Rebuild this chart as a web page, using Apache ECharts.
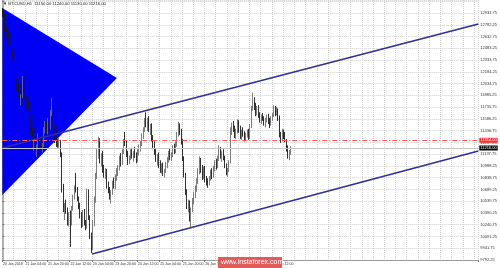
<!DOCTYPE html>
<html>
<head>
<meta charset="utf-8">
<script src="https://cdn.jsdelivr.net/npm/echarts@6/dist/echarts.min.js"></script>
<style>
  html, body { margin: 0; padding: 0; background: #fff; }
  #chart { width: 500px; height: 268px; }
</style>
</head>
<body>
<div id="chart"></div>
<script>
// BTCUSD H1, one candle per hour starting 20 Jan 2018 12:00
var openPrices = [
  12940,12900,12740,12690,12650,12560,12500,12430,12360,12210,
  12060,11980,11900,11820,11870,12080,11950,11850,11760,11720,
  11600,11420,11260,11300,11140,11230,11370,11330,11220,11250,
  11450,11520,11410,11570,11470,11660,11700,11460,11310,11290,
  11250,11300,11130,10700,10440,10480,10420,10280,10370,10250,
  10450,10590,10700,10680,10560,10470,10350,10240,10400,10260,
  10210,10660,10330,10100,9960,10260,10560,10860,11150,11300,
  11060,11110,10940,10880,10920,10740,10680,10600,10650,10770,
  10720,10850,10920,10960,11080,11020,11170,11300,11280,11140,
  11030,11090,11170,11110,11150,11120,11060,11180,11220,11270,
  11370,11450,11560,11520,11580,11460,11490,11330,11240,11170,
  11080,11110,11000,10930,10990,10880,10920,11010,11060,11150,
  11090,11130,11220,11170,11260,11390,11500,11420,11290,11080,
  10870,10650,10470,10520,10320,10430,10550,10620,10700,10800,
  10920,11070,10940,10850,10950,10810,10790,10760,10840,10900,
  10860,10970,11030,10980,11090,11200,11120,11150,11090,10990,
  10900,10930,11040,11450,11500,11460,11380,11430,11540,11450,
  11360,11420,11390,11340,11380,11420,11350,11490,11720,11810,
  11740,11660,11720,11630,11570,11600,11590,11530,11570,11610,
  11550,11520,11590,11640,11720,11660,11700,11600,11380,11320,
  11430,11360,11310,11200,11120,11150
];
var closePrices = [
  12900,12740,12690,12650,12560,12500,12430,12360,12210,12060,
  11980,11900,11820,11870,12080,11950,11850,11760,11720,11600,
  11420,11260,11300,11140,11230,11370,11330,11220,11250,11450,
  11520,11410,11570,11470,11660,11700,11460,11310,11290,11250,
  11300,11130,10700,10440,10480,10420,10280,10370,10250,10450,
  10590,10700,10680,10560,10470,10350,10240,10400,10260,10210,
  10660,10330,10100,9960,10260,10560,10860,11150,11300,11060,
  11110,10940,10880,10920,10740,10680,10600,10650,10770,10720,
  10850,10920,10960,11080,11020,11170,11300,11280,11140,11030,
  11090,11170,11110,11150,11120,11060,11180,11220,11270,11370,
  11450,11560,11520,11580,11460,11490,11330,11240,11170,11080,
  11110,11000,10930,10990,10880,10920,11010,11060,11150,11090,
  11130,11220,11170,11260,11390,11500,11420,11290,11080,10870,
  10650,10470,10520,10320,10430,10550,10620,10700,10800,10920,
  11070,10940,10850,10950,10810,10790,10760,10840,10900,10860,
  10970,11030,10980,11090,11200,11120,11150,11090,10990,10900,
  10930,11040,11450,11500,11460,11380,11430,11540,11450,11360,
  11420,11390,11340,11380,11420,11350,11490,11720,11810,11740,
  11660,11720,11630,11570,11600,11590,11530,11570,11610,11550,
  11520,11590,11640,11720,11660,11700,11600,11380,11320,11430,
  11360,11310,11200,11120,11150,11216
];
var lowPrices = [
  12880,12700,12640,12610,12520,12470,12400,12330,12180,12020,
  11940,11860,11780,11760,11850,11920,11820,11720,11680,11560,
  11380,11220,11180,11100,11100,11200,11300,11190,11160,11230,
  11400,11380,11390,11440,11450,11620,11420,11280,11230,11220,
  11220,11100,10650,10400,10300,10380,10230,10220,9960,10230,
  10420,10560,10650,10540,10440,10320,10200,10210,10230,10170,
  10190,10300,10060,9880,9920,10220,10520,10820,11080,11020,
  10980,10900,10840,10820,10700,10640,10560,10510,10620,10700,
  10690,10800,10860,10930,10980,11000,11140,11240,11100,11000,
  11010,11060,11080,11040,11090,11020,11040,11120,11170,11240,
  11330,11420,11480,11430,11420,11380,11300,11200,11130,11040,
  10990,10960,10900,10890,10860,10840,10900,10960,11030,11060,
  11050,11100,11140,11150,11230,11360,11380,11260,11050,10840,
  10620,10440,10400,10280,10200,10400,10500,10580,10660,10760,
  10880,10900,10810,10820,10780,10740,10710,10740,10800,10820,
  10840,10920,10940,10960,11050,11080,11040,11060,10960,10870,
  10850,10910,11020,11380,11420,11340,11330,11400,11410,11330,
  11320,11360,11300,11310,11350,11320,11330,11470,11690,11700,
  11620,11630,11600,11540,11520,11560,11500,11480,11540,11520,
  11470,11500,11560,11610,11620,11630,11560,11350,11280,11300,
  11330,11290,11170,11080,11060,11130
];
var highPrices = [
  12996,12930,12800,12760,12700,12620,12560,12480,12400,12260,
  12110,12030,11960,11900,12130,12110,11990,11880,11800,11740,
  11640,11480,11330,11340,11260,11400,11450,11380,11280,11480,
  11560,11560,11600,11620,11700,11850,11760,11500,11360,11330,
  11340,11320,11160,10760,10520,10560,10460,10400,10420,10480,
  10620,10740,10900,10720,10600,10520,10400,10430,10440,10300,
  10700,10690,10360,10140,10300,10600,10900,11200,11360,11340,
  11150,11180,11000,10960,10950,10790,10720,10680,10800,10840,
  10880,10960,11000,11120,11150,11200,11330,11420,11320,11180,
  11120,11200,11220,11180,11230,11160,11200,11260,11300,11400,
  11480,11600,11670,11600,11620,11520,11530,11380,11300,11210,
  11140,11160,11060,11020,11030,10950,11040,11100,11180,11210,
  11160,11250,11270,11300,11420,11550,11530,11460,11330,11110,
  10900,10690,10560,10550,10460,10580,10660,10740,10830,10960,
  11110,11090,11000,10980,10990,10860,10830,10860,10940,10960,
  10990,11060,11080,11120,11250,11230,11180,11200,11120,11020,
  10960,11060,11480,11540,11560,11500,11460,11580,11570,11500,
  11450,11480,11430,11410,11450,11460,11520,11750,11920,11860,
  11790,11750,11760,11670,11640,11660,11620,11600,11640,11650,
  11600,11620,11660,11760,11750,11740,11720,11630,11420,11460,
  11450,11420,11330,11250,11190,11240
];

// time axis labels, one every 16 bars
var timeLabels = ['20 Jan 2018', '21 Jan 04:00', '21 Jan 20:00', '22 Jan 12:00',
  '23 Jan 04:00', '23 Jan 20:00', '24 Jan 12:00', '25 Jan 04:00', '25 Jan 20:00',
  '26 Jan 12:00', '27 Jan 04:00', '27 Jan 20:00', '28 Jan 12:00'];
var labelEvery = 16;
var slotCount = 339;

// price scale of the right axis
var priceMin = 9792.25;
var priceMax = 13097.5;
var priceStep = 149.5;

// drawn objects (bar position, price)
var triangleBars = [0, 81.6, 0];
var trianglePrices = [12996, 12106, 10618];
var upperChannelBars = [0, 339];
var upperChannelPrices = [11216, 12792];
var lowerChannelBars = [64, 339];
var lowerChannelPrices = [9868, 11178];
var levelPrice = 11314;
var lastPrice = 11216;

var slots = [];
for (var i = 0; i < slotCount; i++) slots.push(i);

var candles = openPrices.map(function (o, k) {
  return [o, closePrices[k], lowPrices[k], highPrices[k]];
});

function pairs(xs, ys) {
  return xs.map(function (x, k) { return [x, ys[k]]; });
}

function showLabel(idx) {
  return idx % labelEvery === 0 && idx / labelEvery < timeLabels.length;
}

var chart = echarts.init(document.getElementById('chart'), null, { renderer: 'canvas' });

var option = {
  animation: false,
  backgroundColor: '#ffffff',
  grid: { left: 1, right: 17, top: 0, bottom: 8 },
  xAxis: [{
    type: 'category',
    data: slots,
    boundaryGap: true,
    axisLine: { lineStyle: { color: '#9a9a9a', width: 1 } },
    axisTick: { show: true, length: 2, lineStyle: { color: '#777' }, interval: showLabel },
    axisLabel: {
      interval: showLabel,
      formatter: function (v, idx) { return timeLabels[idx / labelEvery] || ''; },
      align: 'left',
      fontSize: 3.6,
      fontFamily: 'Liberation Sans',
      color: '#333',
      margin: 2
    },
    splitLine: {
      show: true,
      interval: function (idx) { return idx % 8 === 0; },
      lineStyle: { color: '#cfcfcf', type: 'dotted', width: 1 }
    }
  }, {
    type: 'value',
    min: 0,
    max: slotCount,
    show: false
  }],
  yAxis: [{
    type: 'value',
    position: 'right',
    min: priceMin,
    max: priceMax,
    interval: priceStep,
    axisLine: { show: true, lineStyle: { color: '#9a9a9a', width: 1.5 } },
    axisTick: { show: true, length: 2, lineStyle: { color: '#777' } },
    axisLabel: {
      showMaxLabel: false,
      fontSize: 4,
      fontFamily: 'Liberation Sans',
      color: '#333',
      margin: 2,
      formatter: function (v) { return v > 13000 ? '' : v.toFixed(2); }
    },
    splitLine: { show: true, lineStyle: { color: '#cfcfcf', type: 'dotted', width: 1 } }
  }],
  series: [{
    type: 'custom',
    xAxisIndex: 1,
    z: 1,
    silent: true,
    data: [0],
    renderItem: function (params, api) {
      var pts = triangleBars.map(function (b, k) { return api.coord([b, trianglePrices[k]]); });
      return { type: 'polygon', shape: { points: pts }, style: { fill: '#0000f5' } };
    }
  }, {
    type: 'candlestick',
    z: 3,
    data: candles,
    barWidth: 1.3,
    itemStyle: {
      color: '#a8a8a8',
      borderColor: '#6e6e6e',
      color0: '#1a1a1a',
      borderColor0: '#1a1a1a',
      borderWidth: 0.9
    },
    markLine: {
      symbol: 'none',
      silent: true,
      animation: false,
      data: [{
        yAxis: levelPrice,
        lineStyle: { color: '#ff5a5a', type: [5, 2, 1, 2], width: 1 },
        label: {
          position: 'end', distance: 1, fontSize: 4, fontFamily: 'Liberation Sans',
          color: '#fff', backgroundColor: '#ff2a2a', padding: [0.5, 1],
          formatter: function (p) { return p.value.toFixed(2); }
        }
      }, {
        yAxis: lastPrice,
        lineStyle: { color: '#c4c4c4', type: 'solid', width: 1 },
        label: {
          position: 'end', distance: 1, fontSize: 4, fontFamily: 'Liberation Sans',
          color: '#fff', backgroundColor: '#000', padding: [0.5, 1],
          formatter: function (p) { return p.value.toFixed(2); }
        }
      }]
    }
  }, {
    type: 'line',
    xAxisIndex: 1,
    z: 4,
    symbol: 'none',
    silent: true,
    data: pairs(upperChannelBars, upperChannelPrices),
    lineStyle: { color: '#2e2e9e', width: 1.5 }
  }, {
    type: 'line',
    xAxisIndex: 1,
    z: 4,
    symbol: 'none',
    silent: true,
    data: pairs(lowerChannelBars, lowerChannelPrices),
    lineStyle: { color: '#2e2e9e', width: 1.5 }
  }],
  graphic: [{
    type: 'text',
    left: 3,
    top: 2,
    z: 10,
    style: {
      text: '\u25BC BTCUSD,H1  11150.00 11240.00 11130.00 11216.00',
      fontSize: 4.2,
      fontFamily: 'Liberation Sans',
      fill: '#222'
    }
  }, {
    type: 'rect',
    left: 218,
    top: 257,
    z: 10,
    shape: { width: 64, height: 11 },
    style: { fill: '#e05c5c' }
  }, {
    type: 'text',
    left: 221,
    top: 258.5,
    z: 11,
    style: {
      text: 'www.instaforex.com',
      fontSize: 7,
      fontFamily: 'Liberation Sans',
      fill: '#ffffff'
    }
  }]
};

chart.setOption(option);
</script>
</body>
</html>
